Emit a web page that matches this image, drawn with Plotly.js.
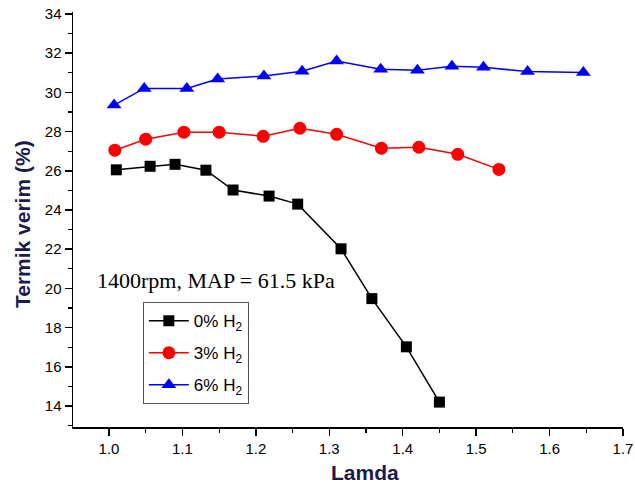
<!DOCTYPE html>
<html>
<head>
<meta charset="utf-8">
<script src="https://cdn.plot.ly/plotly-3.0.1.min.js"></script>
<style>html,body{margin:0;padding:0;background:#fff;}#chart{width:635px;height:489px;}</style>
</head>
<body>
<div id="chart"></div>
<script>
const seriesNames = ["0% H<sub>2</sub>", "3% H<sub>2</sub>", "6% H<sub>2</sub>"];
const lamda0 = [1.01, 1.056, 1.09, 1.132, 1.169, 1.218, 1.257, 1.316, 1.358, 1.405, 1.45];
const verim0 = [26.05, 26.23, 26.33, 26.03, 25.02, 24.71, 24.30, 22.02, 19.48, 17.02, 14.2];
const lamda3 = [1.008, 1.05, 1.102, 1.15, 1.21, 1.26, 1.31, 1.371, 1.422, 1.475, 1.531];
const verim3 = [27.05, 27.61, 27.97, 27.97, 27.76, 28.17, 27.86, 27.15, 27.20, 26.84, 26.07];
const lamda6 = [1.007, 1.048, 1.106, 1.148, 1.211, 1.263, 1.31, 1.37, 1.42, 1.467, 1.51, 1.57, 1.646];
const verim6 = [29.35, 30.2, 30.2, 30.68, 30.83, 31.08, 31.6, 31.18, 31.13, 31.33, 31.28, 31.06, 31.02];
const xTitle = "Lamda";
const yTitle = "Termik verim (%)";
const noteText = "1400rpm, MAP = 61.5 kPa";

const traces = [
  {x: lamda0, y: verim0, name: seriesNames[0], legendgroup: "a", mode: "lines+markers",
   line: {color: "#000000", width: 1.5}, marker: {symbol: "square", size: 11, color: "#000000"}},
  {x: lamda3, y: verim3, name: seriesNames[1], legendgroup: "b", mode: "lines+markers",
   line: {color: "#ff0000", width: 1.5}, marker: {symbol: "circle", size: 13, color: "#ff0000"}},
  {x: lamda6, y: verim6, name: seriesNames[2], legendgroup: "c", mode: "lines+markers",
   line: {color: "#0000ff", width: 1.5}, marker: {symbol: "triangle-up", size: 13, color: "#0000ff"}}
];

const titleFont = {size: 21, color: "#1a1a50", family: "Arial, Liberation Sans, sans-serif", weight: "bold"};

const layout = {
  width: 635, height: 489,
  margin: {l: 73, r: 12, t: 12, b: 62},
  paper_bgcolor: "#ffffff", plot_bgcolor: "#ffffff",
  font: {family: "Arial, Liberation Sans, sans-serif", size: 13, color: "#000"},
  showlegend: true,
  legend: {x: 0.127, y: 0.301, xanchor: "left", yanchor: "top",
           bordercolor: "#555555", borderwidth: 1, bgcolor: "#ffffff",
           font: {family: "Arial, Liberation Sans, sans-serif", size: 17, color: "#000"},
           tracegroupgap: 7, itemwidth: 40},
  xaxis: {range: [0.951, 1.7], tick0: 1.0, dtick: 0.1, tickformat: ".1f",
          showgrid: false, zeroline: false, showline: true, linecolor: "#000", linewidth: 1.5,
          ticks: "outside", ticklen: 7, tickwidth: 1.5, tickcolor: "#000",
          minor: {dtick: 0.05, tick0: 1.0, ticks: "outside", ticklen: 4, tickwidth: 1.2, tickcolor: "#000", showgrid: false},
          tickfont: {size: 15}},
  yaxis: {range: [12.93, 34.1], tick0: 14, dtick: 2,
          showgrid: false, zeroline: false, showline: true, linecolor: "#000", linewidth: 1.5,
          ticks: "outside", ticklen: 7, tickwidth: 1.5, tickcolor: "#000",
          minor: {dtick: 1, ticks: "outside", ticklen: 4, tickwidth: 1.2, tickcolor: "#000", showgrid: false},
          tickfont: {size: 15}},
  annotations: [
    {text: noteText, xref: "paper", yref: "paper", x: 0.26, y: 0.352,
     xanchor: "center", yanchor: "middle", showarrow: false,
     font: {family: "Liberation Serif, Times New Roman, serif", size: 22, color: "#000"}},
    {text: xTitle, xref: "paper", yref: "paper", x: 0.531, y: -0.11,
     xanchor: "center", yanchor: "middle", showarrow: false, font: titleFont},
    {text: yTitle, xref: "paper", yref: "paper", x: -0.092, y: 0.49, textangle: -90,
     xanchor: "center", yanchor: "middle", showarrow: false, font: titleFont}
  ]
};

Plotly.newPlot("chart", traces, layout, {displayModeBar: false, staticPlot: true});
</script>
</body>
</html>
